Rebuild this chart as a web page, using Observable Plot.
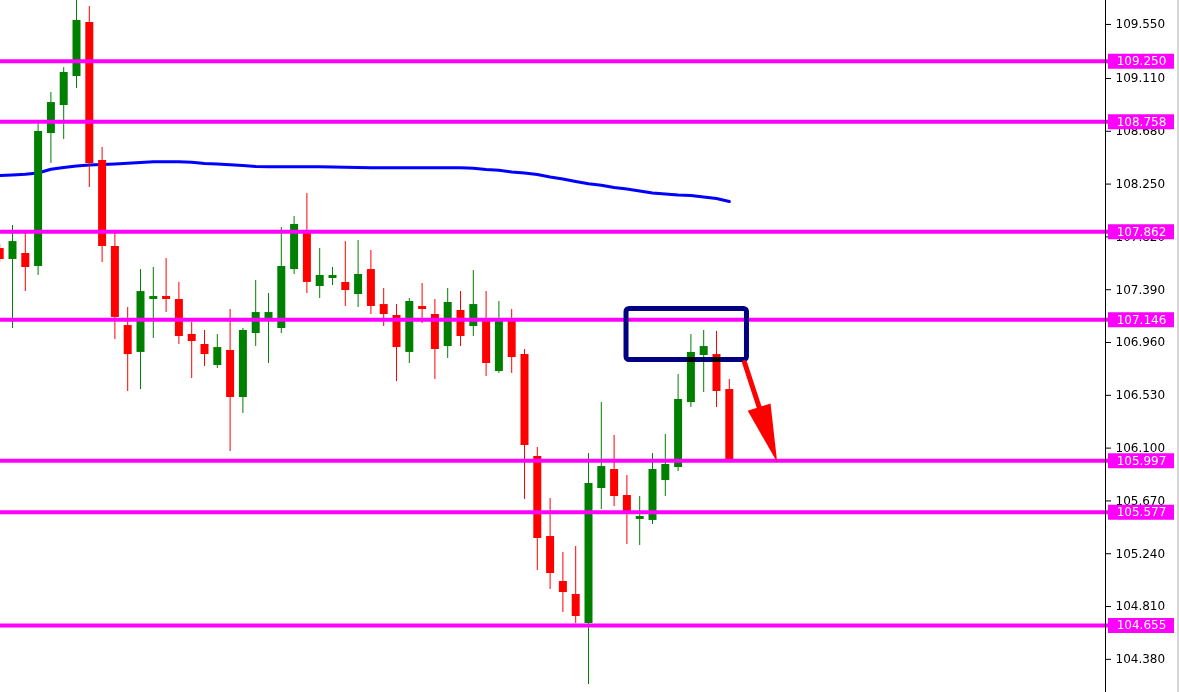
<!DOCTYPE html>
<html><head><meta charset="utf-8">
<script src="https://cdn.jsdelivr.net/npm/d3@7"></script>
<script src="https://cdn.jsdelivr.net/npm/@observablehq/plot@0.6"></script>
<style>html,body{margin:0;padding:0;background:#fff;} #chart svg{display:block;}</style>
</head><body><div id="chart"></div>
<script>
// ---- data (bar index 0..57) ----
const opens = [107.725,107.636,107.685,107.579,108.662,108.890,109.126,109.566,108.442,107.742,
107.098,106.879,107.310,107.335,107.310,107.025,106.944,106.773,106.895,106.512,
107.033,107.131,107.074,107.554,107.864,107.416,107.481,107.449,107.351,107.554,
107.269,107.180,106.879,107.253,107.188,106.927,107.221,107.090,107.139,106.724,
107.155,106.862,106.032,105.380,105.014,104.908,104.672,105.771,105.926,105.714,
105.519,105.511,105.836,105.942,106.471,106.854,106.862,106.577];
const highs = [107.758,107.913,107.848,108.743,108.996,109.199,109.760,109.696,108.548,107.848,
107.245,107.554,107.571,107.644,107.449,107.123,107.058,107.025,107.229,107.074,
107.465,107.359,107.896,107.986,108.173,107.725,107.571,107.782,107.791,107.709,
107.400,107.269,107.318,107.440,107.310,107.400,107.375,107.546,107.375,107.294,
107.229,106.903,106.105,105.690,105.250,105.299,106.056,106.471,106.203,105.877,
105.706,106.056,106.211,106.699,107.025,107.058,107.050,106.659];
const lows = [107.611,107.074,107.375,107.506,108.418,108.613,109.028,108.222,107.611,106.984,
106.561,106.577,106.993,107.204,106.944,106.667,106.765,106.748,106.072,106.382,
106.927,106.789,107.033,107.514,107.359,107.318,107.424,107.253,107.245,107.188,
107.090,106.642,106.789,107.115,106.659,106.830,106.927,107.009,106.683,106.708,
106.708,105.682,105.103,104.949,104.761,104.672,104.175,105.600,105.624,105.315,
105.307,105.478,105.706,105.909,106.431,106.553,106.431,105.990];
const closes = [107.636,107.782,107.571,108.678,108.914,109.159,109.582,108.418,107.742,107.164,
106.862,107.375,107.335,107.310,107.009,106.968,106.862,106.919,106.512,107.058,
107.204,107.204,107.579,107.921,107.449,107.506,107.506,107.383,107.514,107.253,
107.188,106.919,107.294,107.229,106.903,107.286,107.009,107.269,106.789,107.139,
106.838,106.121,105.364,105.079,104.924,104.729,105.812,105.950,105.706,105.576,
105.543,105.926,105.967,106.496,106.879,106.927,106.561,105.990];
const maValues = [108.320,108.324,108.330,108.340,108.371,108.385,108.397,108.405,108.410,108.414,
108.420,108.426,108.432,108.432,108.432,108.427,108.418,108.414,108.407,108.401,
108.393,108.391,108.391,108.391,108.391,108.391,108.389,108.388,108.385,108.383,
108.383,108.383,108.383,108.383,108.383,108.383,108.383,108.379,108.369,108.362,
108.349,108.341,108.328,108.308,108.291,108.271,108.252,108.241,108.222,108.210,
108.194,108.177,108.169,108.161,108.157,108.145,108.133,108.108];
const levels = [109.250,108.758,107.862,107.146,105.997,105.577,104.655];
const tickValues = [109.550,109.110,108.680,108.250,107.820,107.390,106.960,106.530,106.100,105.670,105.240,104.810,104.380];
// annotations (bar index / price)
const zoneBars = [48.97, 58.38];
const zonePrices = [106.817, 107.233];
const arrowBars = [58.19, 60.74];
const arrowPrices = [106.797, 105.985];

// ---- layout ----
const W = 1179, H = 692, MR = 74;
const pxPerBar = 12.8;
const xMin = 0.0625, xMax = xMin + (W - MR) / pxPerBar;
const yMin = 104.110, yMax = 109.745;
const barAt = px => xMin + px / pxPerBar;
const pxPerPrice = H / (yMax - yMin);

const bars = opens.map((_, i) => i);
const candles = bars.map(i => ({i, open: opens[i], high: highs[i], low: lows[i], close: closes[i],
  color: closes[i] >= opens[i] ? "#008000" : "#ff0000"}));
const ma = bars.map(i => ({i, v: maValues[i]}));
const zone = {x1: zoneBars[0], x2: zoneBars[1], y1: zonePrices[0], y2: zonePrices[1]};
const arrow = {x1: arrowBars[0], x2: arrowBars[1], y1: arrowPrices[0], y2: arrowPrices[1]};
const dxPx = (arrow.x2 - arrow.x1) * pxPerBar;
const dyPx = (arrow.y1 - arrow.y2) * pxPerPrice;
const headRotate = 180 - Math.atan2(dxPx, dyPx) * 180 / Math.PI;
const headSymbol = {draw(ctx) { ctx.moveTo(0, 0); ctx.lineTo(12, 58); ctx.lineTo(-12, 58); ctx.closePath(); }};

const chart = Plot.plot({
  width: W, height: H,
  marginLeft: 0, marginRight: MR, marginTop: 0, marginBottom: 0,
  style: {fontFamily: "DejaVu Sans", fontSize: "12px", background: "#fff"},
  x: {type: "linear", domain: [xMin, xMax], axis: null},
  y: {domain: [yMin, yMax], axis: null},
  marks: [
    Plot.line(ma, {x: "i", y: "v", stroke: "#0000ff", strokeWidth: 3, clip: true}),
    Plot.ruleX(candles, {x: "i", y1: "low", y2: "high", stroke: "color", strokeWidth: 1, clip: true}),
    Plot.ruleX(candles, {x: "i", y1: "open", y2: "close", stroke: "color", strokeWidth: 8, clip: true}),
    Plot.ruleY(levels, {y: d => d, x1: xMin, x2: barAt(1108), stroke: "#ff00ff", strokeWidth: 4}),
    Plot.rect([zone], {x1: "x1", x2: "x2", y1: "y1", y2: "y2", fill: "none", stroke: "#000080", strokeWidth: 5, rx: 3, mixBlendMode: "multiply"}),
    Plot.arrow([arrow], {x1: "x1", y1: "y1", x2: "x2", y2: "y2", stroke: "#ff0000", strokeWidth: 5, headLength: 0, insetEnd: 30}),
    Plot.dot([arrow], {x: "x2", y: "y2", symbol: headSymbol, fill: "#ff0000", stroke: "none", rotate: headRotate}),
    Plot.ruleX([xMax], {stroke: "#000", strokeWidth: 1}),
    Plot.axisY(tickValues, {anchor: "right", tickSize: 5, tickPadding: 5, tickFormat: d => d.toFixed(3), label: null, fontSize: 12, fill: "#000", stroke: "#000"}),
    Plot.ruleY(levels, {y: d => d, x1: barAt(1108), x2: barAt(1174), stroke: "#ff00ff", strokeWidth: 15}),
    Plot.text(levels, {y: d => d, x: barAt(1141), text: d => d.toFixed(3), fill: "#fff", fontSize: 12}),
    Plot.ruleX([barAt(1177.5)], {stroke: "#b0b0b0", strokeWidth: 1})
  ]
});
document.getElementById("chart").appendChild(chart);
</script></body></html>
